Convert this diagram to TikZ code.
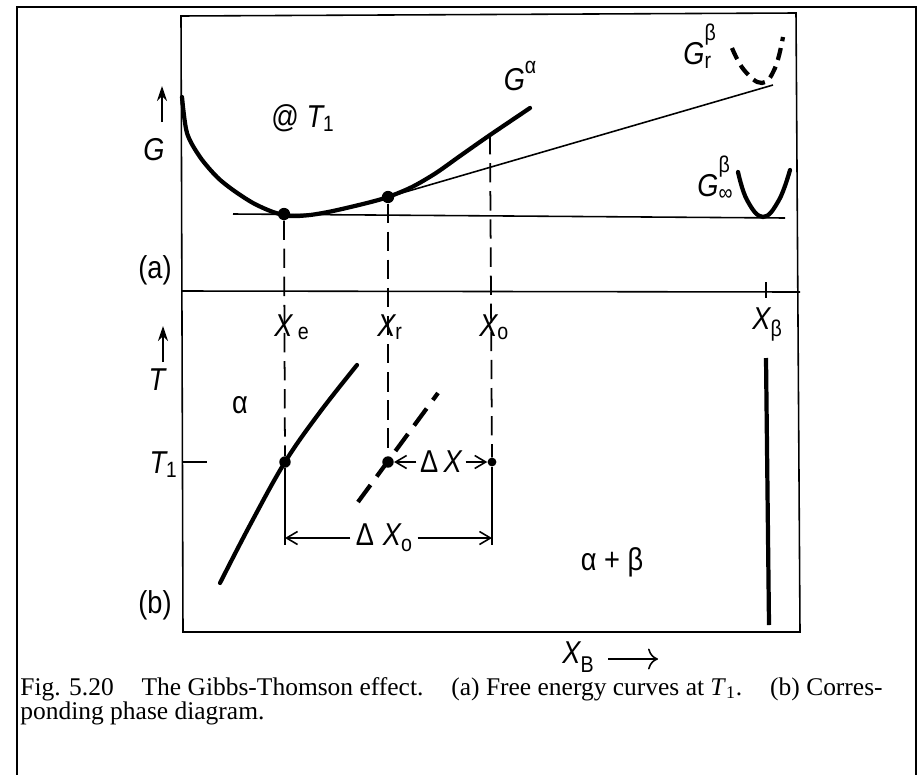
\documentclass[tikz,border=0pt]{standalone}
\usepackage{fontspec}
\setmainfont{Liberation Serif}
\newfontfamily\lettering[FakeStretch=0.86]{Liberation Sans}
\usetikzlibrary{arrows.meta}

\begin{document}
\begin{tikzpicture}[x=0.02cm, y=-0.02cm,
    lbl/.style={font=\lettering\fontsize{18}{21}\selectfont, inner sep=0pt},
    frame/.style={line width=0.9pt},
    curve/.style={line width=2.4pt, line cap=round},
    thinline/.style={line width=0.9pt},
    guide/.style={line width=1pt, dash pattern=on 11pt off 5pt},
    dot/.style={circle, fill, inner sep=0pt, minimum size=7pt},
    dimarrow/.style={-{Straight Barb[length=2.2mm,width=2.6mm]}, line width=0.9pt},
    axisarrow/.style={-{Stealth[length=3mm,width=2mm]}, line width=1pt}
  ]
  \useasboundingbox (0,0) rectangle (919,774);
  % outer frame and plot frame
  \draw[line width=1.1pt] (17,790) -- (17,7) -- (916,7) -- (916,790);
  \draw[frame] (181,16) -- (796,13) -- (800,632) -- (183,632) -- cycle;
  \draw[frame] (181,291) -- (800,292);

  % (a) free energy curves
  \node[lbl] (Glabel) at (154,150) {\itshape G};
  \coordinate (Gfoot) at (162,122);
  \coordinate (Ghead) at (162,86);
  \draw[axisarrow] (Gfoot) -- (Ghead);
  \node[lbl] (atT) at (303,118) {@ \itshape T\upshape\textsubscript{1}};
  \node[lbl] (alabel) at (155,270) {(a)};

  \draw[curve] plot[smooth, tension=0.5] coordinates {(182,97) (187,133)
    (200,157) (217,177) (233,190) (253,203) (273,212) (290,216) (310,215)
    (333,211) (367,203) (388,197) (412,187) (436,173) (460,156) (490,135) (530,108)};
  \node[lbl] (Galpha) at (520,76) {\itshape G\/\upshape\raisebox{0.55em}{\fontsize{13}{13}\selectfont α}};

  \node[dot] (ea) at (284,214) {};
  \node[dot] (ra) at (388,197) {};
  \coordinate (oa) at (490,135);
  \coordinate (tangentend) at (773,85);
  \coordinate (flatstart) at (233,214);
  \coordinate (flatend) at (785,218);
  \draw[thinline] (flatstart) -- (flatend);
  \draw[thinline] (ra) -- (tangentend);

  \draw[curve] plot[smooth, tension=0.7] coordinates {(738,172) (747,200) (763,217) (779,200) (790,170)};
  \node[lbl, anchor=base west] (Ginf) at (697,196)
    {\itshape G\/\upshape\rlap{\raisebox{0.75em}{\fontsize{13}{13}\selectfont β}}\raisebox{-0.15em}{\fontsize{13}{13}\selectfont ∞}};
  \draw[curve, line cap=butt, dash pattern=on 7pt off 4pt] plot[smooth, tension=0.7] coordinates {(732,48) (744,70) (762,83) (775,68) (783,37)};
  \node[lbl, anchor=base west] (Gr) at (683,64)
    {\itshape G\/\upshape\rlap{\raisebox{0.75em}{\fontsize{13}{13}\selectfont β}}\raisebox{-0.15em}{\fontsize{13}{13}\selectfont r}};

  % (b) phase diagram
  \node[lbl] (Tlabel) at (157,380) {\itshape T};
  \coordinate (Tfoot) at (163,362);
  \coordinate (Thead) at (163,326);
  \draw[axisarrow] (Tfoot) -- (Thead);
  \node[lbl, anchor=base east] (Tone) at (178,473) {\itshape T\upshape\textsubscript{1}};
  \coordinate (tickin) at (207,462);
  \draw[thinline] (183,462) -- (tickin);
  \node[lbl] (blabel) at (155,605) {(b)};
  \node[lbl] (alpha) at (240,405) {α};
  \node[lbl] (twophase) at (612,562) {α + β};

  \node[lbl, anchor=base west] (Xe) at (274,336) {\itshape X\upshape\,\raisebox{-0.1em}{\fontsize{13}{13}\selectfont e}};
  \node[lbl, anchor=base west] (Xr) at (377,336) {\itshape X\upshape\raisebox{-0.1em}{\fontsize{13}{13}\selectfont r}};
  \node[lbl, anchor=base west] (Xo) at (479,336) {\itshape X\upshape\raisebox{-0.1em}{\fontsize{13}{13}\selectfont o}};
  \node[lbl, anchor=base west] (Xbeta) at (752,329) {\itshape X\upshape\raisebox{-0.25em}{\fontsize{13}{13}\selectfont β}};
  \draw[thinline] (766,282) -- (766,298);

  \node[dot, minimum size=6.5pt] (eb) at (285,462) {};
  \node[dot, minimum size=6.5pt] (rb) at (388,462) {};
  \node[dot, minimum size=5pt] (ob) at (492,462) {};

  \draw[guide] (ea) -- (eb);
  \draw[guide] (ra) -- (rb);
  \draw[guide] (oa) -- (ob);

  \draw[curve] plot[smooth, tension=0.6] coordinates {(220,583) (250,525) (285,462) (320,412) (357,365)};
  \coordinate (rdashlow) at (358,502);
  \coordinate (rdashhigh) at (438,393);
  \draw[curve, line cap=butt, dash pattern=on 12pt off 6pt] (rdashlow) -- (rdashhigh);

  \node[lbl, fill=white, inner xsep=2pt] (dX) at (441,462) {Δ\,\itshape X};
  \draw[dimarrow] (dX) -- (rb);
  \draw[dimarrow] (dX) -- (ob);

  \coordinate (eext) at (285,545);
  \coordinate (oext) at (492,545);
  \draw[thinline] (eb) -- (eext);
  \draw[thinline] (ob) -- (oext);
  \node[lbl, fill=white, inner xsep=3pt] (dXo) at (384,538)
    {Δ\;\itshape X\upshape\raisebox{-0.2em}{\fontsize{13}{13}\selectfont o}};
  \coordinate (eend) at (285,538);
  \coordinate (oend) at (492,538);
  \draw[dimarrow] (dXo) -- (eend);
  \draw[dimarrow] (dXo) -- (oend);

  \coordinate (betatop) at (766,358);
  \coordinate (betafoot) at (769,625);
  \draw[curve, line cap=butt] (betatop) -- (betafoot);

  \node[lbl, anchor=base west] (XB) at (562,663)
    {\itshape X\upshape\raisebox{-0.3em}{\fontsize{13}{13}\selectfont B}};
  \coordinate (XBtail) at (608,659);
  \coordinate (XBtip) at (658,659);
  \draw[-{To[length=2mm]}, line width=0.9pt] (XBtail) -- (XBtip);

  % caption
  \node[anchor=base west, inner sep=0pt, font=\fontsize{14.5}{17}\selectfont] (capone) at (20,695)
    {\makebox[17.25cm][s]{Fig. 5.20\hfill The Gibbs-Thomson effect.\hfill (a) Free energy curves at \textit{T}\textsubscript{1}.\hfill (b) Corres-}};
  \node[anchor=base west, inner sep=0pt, font=\fontsize{14.5}{17}\selectfont] (captwo) at (20,719)
    {ponding phase diagram.};
\end{tikzpicture}
\end{document}
